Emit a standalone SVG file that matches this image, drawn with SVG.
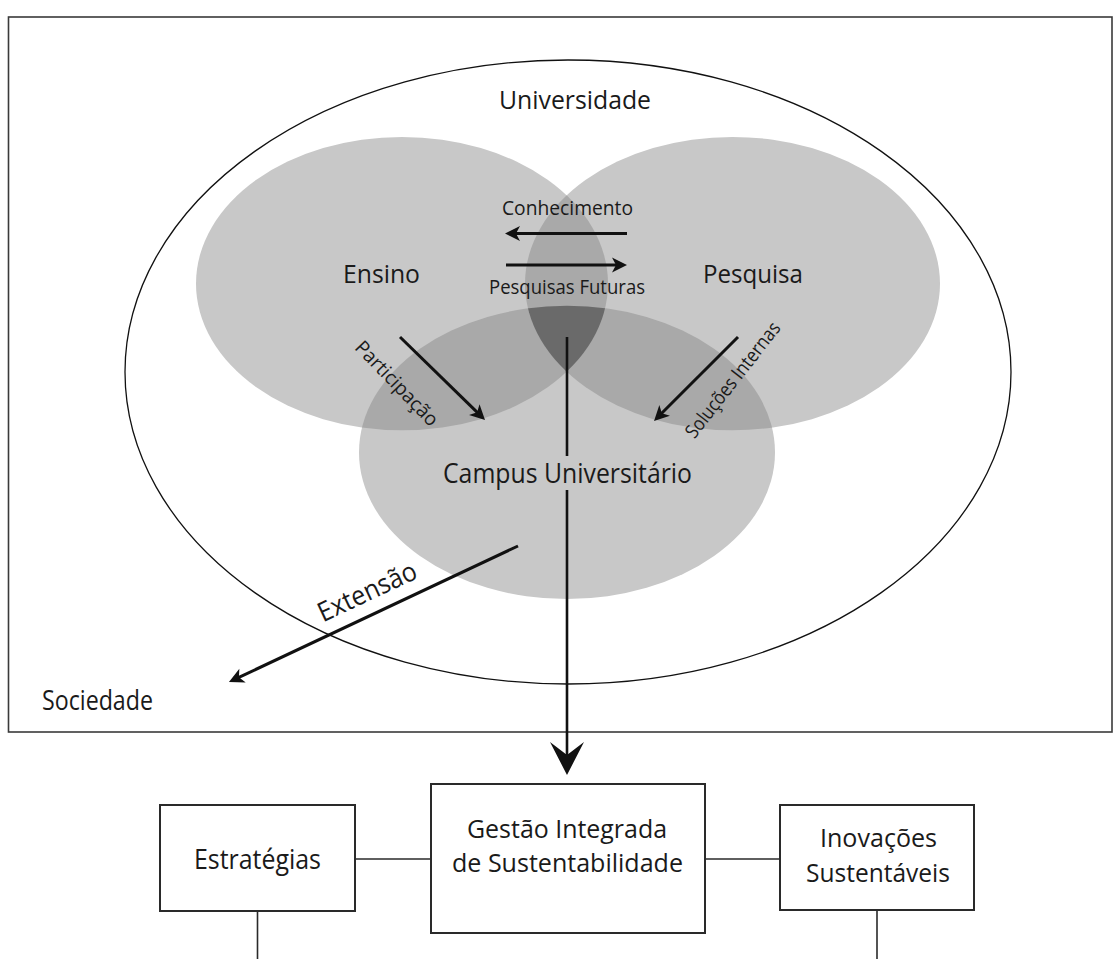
<svg xmlns="http://www.w3.org/2000/svg" width="1115" height="959" viewBox="0 0 1115 959">
  <style>
    .t { font-family: "Open Sans", "Noto Sans", "Liberation Sans", sans-serif; fill: #1a1a1a; text-anchor: middle; }
    .lg { font-size: 26px; }
    .md { font-size: 27px; }
    .bx { font-size: 27px; }
    .bx2 { font-size: 25px; }
    .sm { font-size: 20px; }
    .rot { font-size: 19.5px; }
    .box { fill: #ffffff; stroke: #2a2a2a; stroke-width: 2; }
    .link { stroke: #2a2a2a; stroke-width: 1.6; fill: none; }
    .arr { stroke: #111111; stroke-width: 3; fill: none; }
    .main { stroke: #111111; stroke-width: 2.6; fill: none; }
    .one { fill: #c8c8c8; }
    .two { fill: #a9a9a9; }
    .three { fill: #6a6a6a; }
  </style>
  <defs>
    <marker id="head" markerUnits="userSpaceOnUse" orient="auto" markerWidth="30" markerHeight="30" viewBox="-15 -15 30 30" refX="0" refY="0" overflow="visible">
      <path d="M8,0 L-7,-7.5 L-3,0 L-7,7.5 Z" fill="#111111"/>
    </marker>
    <marker id="bighead" markerUnits="userSpaceOnUse" orient="auto" markerWidth="60" markerHeight="60" viewBox="-30 -30 60 60" refX="0" refY="0" overflow="visible">
      <path d="M20,0 L-13,-17 L0,0 L-13,17 Z" fill="#111111"/>
    </marker>
    <clipPath id="clipEnsino"><ellipse cx="402" cy="283.6" rx="206" ry="146.7"/></clipPath>
    <clipPath id="clipPesquisa"><ellipse cx="732.5" cy="283.6" rx="207.5" ry="146.7"/></clipPath>
  </defs>

  <rect width="1115" height="959" fill="#ffffff"/>

  <!-- outer frame: society -->
  <g id="sociedade">
    <rect x="8.5" y="17" width="1103.5" height="715" fill="none" stroke="#3a3a3a" stroke-width="1.6"/>
    <text class="t md" x="97.5" y="710" textLength="111" lengthAdjust="spacingAndGlyphs">Sociedade</text>
  </g>

  <!-- university ellipse -->
  <g id="universidade">
    <ellipse cx="568" cy="372" rx="443" ry="312" fill="none" stroke="#111111" stroke-width="1.3"/>
    <text class="t lg" x="575" y="109" textLength="152" lengthAdjust="spacingAndGlyphs">Universidade</text>
  </g>

  <!-- three overlapping areas: single, double and triple overlaps -->
  <g id="circulos">
    <ellipse class="one" cx="402" cy="283.6" rx="206" ry="146.7"/>
    <ellipse class="one" cx="732.5" cy="283.6" rx="207.5" ry="146.7"/>
    <ellipse class="one" cx="567" cy="452.4" rx="208" ry="146.6"/>
    <g clip-path="url(#clipEnsino)">
      <ellipse class="two" cx="732.5" cy="283.6" rx="207.5" ry="146.7"/>
      <ellipse class="two" cx="567" cy="452.4" rx="208" ry="146.6"/>
    </g>
    <g clip-path="url(#clipPesquisa)">
      <ellipse class="two" cx="567" cy="452.4" rx="208" ry="146.6"/>
    </g>
    <g clip-path="url(#clipEnsino)">
      <g clip-path="url(#clipPesquisa)">
        <ellipse class="three" cx="567" cy="452.4" rx="208" ry="146.6"/>
      </g>
    </g>
  </g>

  <g id="ensino">
    <text class="t lg" x="381.5" y="283" textLength="77" lengthAdjust="spacingAndGlyphs">Ensino</text>
  </g>
  <g id="pesquisa">
    <text class="t lg" x="753" y="283" textLength="100" lengthAdjust="spacingAndGlyphs">Pesquisa</text>
  </g>
  <g id="campus">
    <text class="t md" x="567.5" y="483" textLength="249" lengthAdjust="spacingAndGlyphs">Campus Universitário</text>
  </g>

  <!-- connectors -->
  <g id="conectores">
    <line class="arr" x1="627" y1="233.5" x2="513" y2="233.5" marker-end="url(#head)"/>
    <line class="arr" x1="506" y1="265" x2="619" y2="265" marker-end="url(#head)"/>
    <line class="arr" x1="400" y1="337" x2="479.3" y2="414.4" marker-end="url(#head)"/>
    <line class="arr" x1="738" y1="337" x2="659.7" y2="415.3" marker-end="url(#head)"/>
    <line class="arr" x1="518" y1="546" x2="236.2" y2="678.6" marker-end="url(#head)"/>
    <line class="main" x1="567" y1="337" x2="567" y2="456"/>
    <line class="main" x1="567" y1="490" x2="567" y2="755" marker-end="url(#bighead)"/>
    <line class="link" x1="355" y1="859" x2="431" y2="859"/>
    <line class="link" x1="705" y1="859" x2="780" y2="859"/>
    <line class="link" x1="257.5" y1="911" x2="257.5" y2="959"/>
    <line class="link" x1="877" y1="910" x2="877" y2="959"/>
  </g>

  <!-- connector labels -->
  <g id="rotulos">
    <text class="t sm" x="567.5" y="215" textLength="131" lengthAdjust="spacingAndGlyphs">Conhecimento</text>
    <text class="t sm" x="567" y="294" textLength="156" lengthAdjust="spacingAndGlyphs">Pesquisas Futuras</text>
    <text class="t rot" transform="translate(392,388) rotate(46)" textLength="110" lengthAdjust="spacingAndGlyphs">Participação</text>
    <text class="t rot" transform="translate(738,384) rotate(-52)" textLength="141" lengthAdjust="spacingAndGlyphs">Soluções Internas</text>
    <text class="t md" transform="translate(371,600) rotate(-25)" textLength="106" lengthAdjust="spacingAndGlyphs">Extensão</text>
  </g>

  <!-- management boxes -->
  <g id="estrategias">
    <rect class="box" x="160" y="805" width="195" height="106"/>
    <text class="t bx" x="257.5" y="869" textLength="127" lengthAdjust="spacingAndGlyphs">Estratégias</text>
  </g>
  <g id="gestao">
    <rect class="box" x="431" y="784" width="274" height="149"/>
    <text class="t bx2" x="567" y="838" textLength="200" lengthAdjust="spacingAndGlyphs">Gestão Integrada</text>
    <text class="t bx2" x="567.5" y="872" textLength="231" lengthAdjust="spacingAndGlyphs">de Sustentabilidade</text>
  </g>
  <g id="inovacoes">
    <rect class="box" x="780" y="805" width="194" height="105"/>
    <text class="t bx2" x="878.5" y="847" textLength="117" lengthAdjust="spacingAndGlyphs">Inovações</text>
    <text class="t bx2" x="878" y="882" textLength="144" lengthAdjust="spacingAndGlyphs">Sustentáveis</text>
  </g>
</svg>
